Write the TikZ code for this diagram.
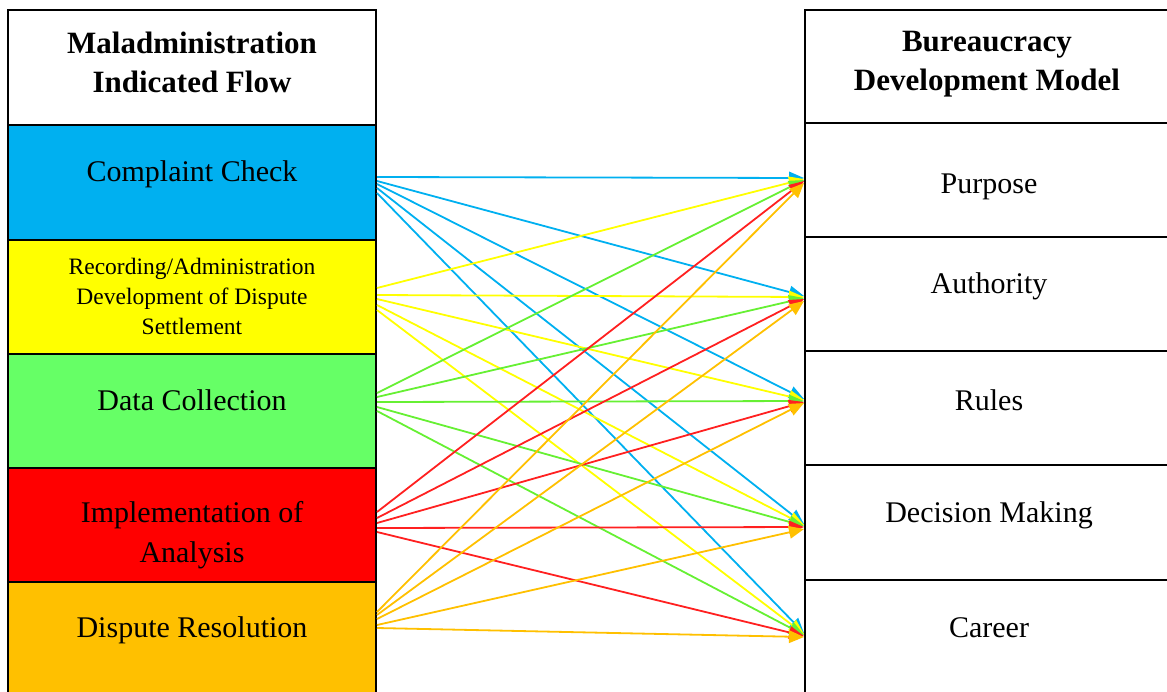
\documentclass[tikz,border=0pt]{standalone}
\usepackage{fontspec}
\setmainfont{Liberation Serif}
\usetikzlibrary{arrows.meta}
\definecolor{cblue}{HTML}{00B0F0}
\definecolor{cyel}{HTML}{FFFF00}
\definecolor{cgreen}{HTML}{66FF66}
\definecolor{lgreen}{HTML}{66F033}
\definecolor{cred}{HTML}{FF0000}
\definecolor{lred}{HTML}{FF2020}
\definecolor{corange}{HTML}{FFC000}
\begin{document}
\begin{tikzpicture}[x=1pt,y=-1pt,
  lbox/.style={draw=black, line width=2pt, minimum width=368pt, inner sep=0pt},
  rbox/.style={draw=black, line width=2pt, minimum width=380pt, inner sep=0pt},
  hdr/.style={font=\bfseries\fontsize{31}{39}\selectfont, align=center, inner sep=0pt},
  txt/.style={font=\fontsize{30}{40}\selectfont, align=center, inner sep=0pt},
  stxt/.style={font=\fontsize{23.5}{30}\selectfont, align=center, inner sep=0pt},
  conn/.style={draw=#1, line width=1.8pt, -{Triangle[length=15pt,width=12.5pt]}}]
\useasboundingbox (0,0) rectangle (1167,691);
% left column
\node[lbox, fill=white, minimum height=115pt] (lh) at (192,67.5) {};
\node[lbox, fill=cblue, minimum height=115pt] (cc) at (192,182.5) {};
\node[lbox, fill=cyel, minimum height=114pt] (rec) at (192,297) {};
\node[lbox, fill=cgreen, minimum height=114pt] (dc) at (192,411) {};
\node[lbox, fill=cred, minimum height=114pt] (ia) at (192,525) {};
\node[lbox, fill=corange, minimum height=114pt] (dr) at (192,639) {};
% right column
\node[rbox, fill=white, minimum height=113pt] (rh) at (995,66.5) {};
\node[rbox, fill=white, minimum height=114pt] (pu) at (995,180) {};
\node[rbox, fill=white, minimum height=114pt] (au) at (995,294) {};
\node[rbox, fill=white, minimum height=114pt] (ru) at (995,408) {};
\node[rbox, fill=white, minimum height=115pt] (dm) at (995,522.5) {};
\node[rbox, fill=white, minimum height=114pt] (ca) at (995,637) {};
% texts
\node[hdr] (lht) at (192,62) {Maladministration\\Indicated Flow};
\node[hdr] (rht) at (987,64) {Bureaucracy\\Development Model};
\node[txt] (t1) at (192,174) {Complaint Check};
\node[stxt] (t2) at (192,296) {Recording/Administration\\Development of Dispute\\Settlement};
\node[txt] (t3) at (192,400) {Data Collection};
\node[txt] (t4) at (192,535) {Implementation of\\Analysis};
\node[txt] (t5) at (192,630) {Dispute Resolution};
\node[txt] (t6) at (989,187) {Purpose};
\node[txt] (t7) at (989,286) {Authority};
\node[txt] (t8) at (989,400) {Rules};
\node[txt] (t9) at (989,515) {Decision Making};
\node[txt] (t10) at (989,628) {Career};
% blue connectors
\draw[conn=cblue] ([yshift=5.5pt]cc.east) -- ([yshift=2pt]pu.west);
\draw[conn=cblue] ([yshift=1.5pt]cc.east) -- ([yshift=-2pt]au.west);
\draw[conn=cblue] ([yshift=-1.5pt]cc.east) -- ([yshift=9pt]ru.west);
\draw[conn=cblue] ([yshift=-5.5pt]cc.east) -- ([yshift=-1.5pt]dm.west);
\draw[conn=cblue] ([yshift=-10.5pt]cc.east) -- ([yshift=4pt]ca.west);
% yellow connectors
\draw[conn=cyel] ([yshift=9pt]rec.east) -- ([yshift=1pt]pu.west);
\draw[conn=cyel] ([yshift=2pt]rec.east) -- ([yshift=-3pt]au.west);
\draw[conn=cyel] ([yshift=-2pt]rec.east) -- ([yshift=8pt]ru.west);
\draw[conn=cyel] ([yshift=-8pt]rec.east) -- ([yshift=-2.5pt]dm.west);
\draw[conn=cyel] ([yshift=-13pt]rec.east) -- ([yshift=3pt]ca.west);
% green connectors
\draw[conn=lgreen] ([yshift=18pt]dc.east) -- ([yshift=0pt]pu.west);
\draw[conn=lgreen] ([yshift=14pt]dc.east) -- ([yshift=-4pt]au.west);
\draw[conn=lgreen] ([yshift=9pt]dc.east) -- ([yshift=7pt]ru.west);
\draw[conn=lgreen] ([yshift=4pt]dc.east) -- ([yshift=-3.5pt]dm.west);
\draw[conn=lgreen] ([yshift=0pt]dc.east) -- ([yshift=2pt]ca.west);
% red connectors
\draw[conn=lred] ([yshift=13pt]ia.east) -- ([yshift=-1pt]pu.west);
\draw[conn=lred] ([yshift=7pt]ia.east) -- ([yshift=-5pt]au.west);
\draw[conn=lred] ([yshift=2pt]ia.east) -- ([yshift=6pt]ru.west);
\draw[conn=lred] ([yshift=-3pt]ia.east) -- ([yshift=-4.5pt]dm.west);
\draw[conn=lred] ([yshift=-7pt]ia.east) -- ([yshift=1pt]ca.west);
% orange connectors
\draw[conn=corange] ([yshift=27pt]dr.east) -- ([yshift=-3pt]pu.west);
\draw[conn=corange] ([yshift=24pt]dr.east) -- ([yshift=-7pt]au.west);
\draw[conn=corange] ([yshift=20pt]dr.east) -- ([yshift=5pt]ru.west);
\draw[conn=corange] ([yshift=14pt]dr.east) -- ([yshift=-6.5pt]dm.west);
\draw[conn=corange] ([yshift=11pt]dr.east) -- ([yshift=0pt]ca.west);
\end{tikzpicture}
\end{document}
